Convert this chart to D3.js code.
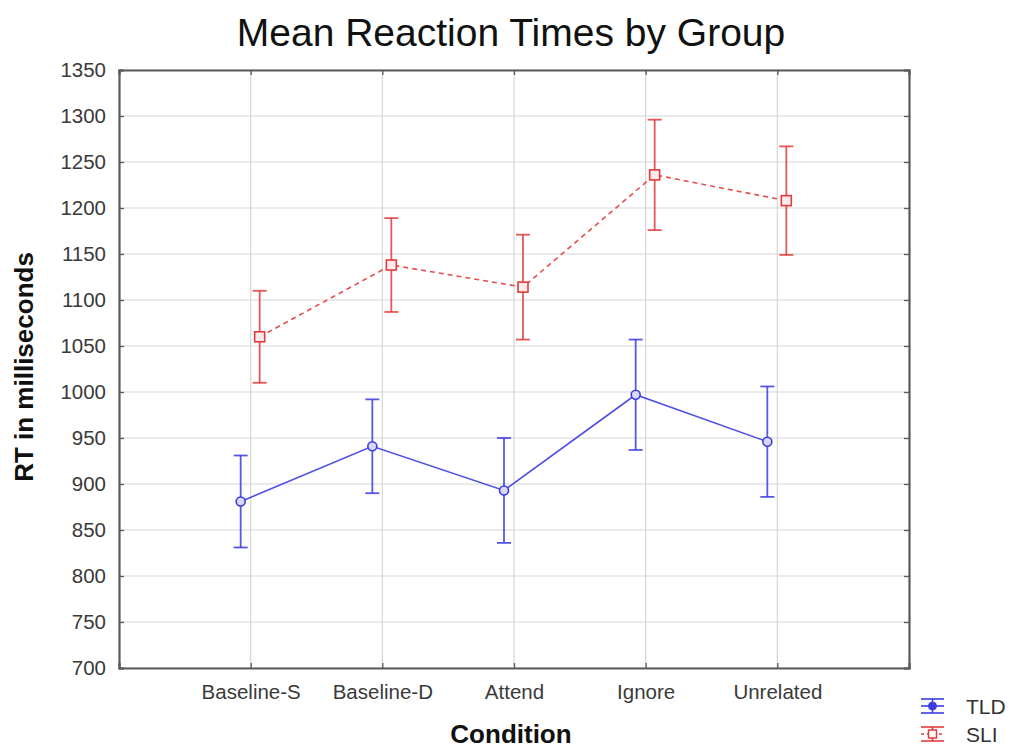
<!DOCTYPE html>
<html>
<head>
<meta charset="utf-8">
<script src="https://cdn.jsdelivr.net/npm/d3@7"></script>
<style>
  html, body { margin: 0; padding: 0; background: #fff; }
  svg { display: block; font-family: "Liberation Sans", Arial, sans-serif; }
</style>
</head>
<body>
<svg id="chart" width="1014" height="752"></svg>
<script>
// Condition categories and group means (ms) with their error half-widths
const conditions = ["Baseline-S", "Baseline-D", "Attend", "Ignore", "Unrelated"];
const tldMeans = [881, 941, 893, 997, 946];
const tldErrors = [50, 51, 57, 60, 60];
const sliMeans = [1060, 1138, 1114, 1236, 1208];
const sliErrors = [50, 51, 57, 60, 59];
const yTickValues = [700, 750, 800, 850, 900, 950, 1000, 1050, 1100, 1150, 1200, 1250, 1300, 1350];
const groupNames = ["TLD", "SLI"];

const svg = d3.select("#chart");
const plot = { left: 119, right: 909, top: 70, bottom: 668 };

const blue = "#3c3ce0";
const red = "#e23b3b";

// Categories sit at 1..n on a 0..n+1 linear axis
const x = d3.scaleLinear().domain([0, conditions.length + 1]).range([plot.left, plot.right]);
const y = d3.scaleLinear().domain([700, 1350]).range([plot.bottom, plot.top]);
const catPos = conditions.map((c, i) => i + 1);

// Gridlines
const grid = svg.append("g");
grid.selectAll("line.h").data(yTickValues).join("line")
  .attr("x1", plot.left).attr("x2", plot.right)
  .attr("y1", d => y(d)).attr("y2", d => y(d))
  .attr("stroke", "#d6d6d6").attr("stroke-width", 1.2);
grid.selectAll("line.v").data(catPos).join("line")
  .attr("x1", d => x(d)).attr("x2", d => x(d))
  .attr("y1", plot.top).attr("y2", plot.bottom)
  .attr("stroke", "#d6d6d6").attr("stroke-width", 1.2);

// Axes with inward ticks
const fontTick = "20.5px";
const yAxisL = d3.axisLeft(y).tickValues(yTickValues).tickSize(-5).tickPadding(13).tickFormat(d3.format("d"));
const gL = svg.append("g").attr("transform", `translate(${plot.left},0)`).call(yAxisL);
const yAxisR = d3.axisRight(y).tickValues(yTickValues).tickSize(-5).tickFormat("");
const gR = svg.append("g").attr("transform", `translate(${plot.right},0)`).call(yAxisR);
const xAxisB = d3.axisBottom(x).tickValues(catPos).tickSize(-5).tickPadding(16)
  .tickFormat((d, i) => conditions[i]);
const gB = svg.append("g").attr("transform", `translate(0,${plot.bottom})`).call(xAxisB);
const xAxisT = d3.axisTop(x).tickValues(catPos).tickSize(-5).tickFormat("");
const gT = svg.append("g").attr("transform", `translate(0,${plot.top})`).call(xAxisT);

[gL, gR, gB, gT].forEach(g => {
  g.select(".domain").attr("stroke", "#5a5a5a").attr("stroke-width", 2.2);
  g.selectAll(".tick line").attr("stroke", "#5a5a5a").attr("stroke-width", 1.3);
  g.selectAll(".tick text").attr("fill", "#3a3a3a")
    .style("font-size", fontTick).style("font-family", "'Liberation Sans', Arial, sans-serif");
});
gB.selectAll(".tick text").attr("dy", "0.71em");

// Series drawing
const series = [
  { name: "TLD", means: tldMeans, errs: tldErrors, color: blue, dash: null, offset: -10, marker: "circle" },
  { name: "SLI", means: sliMeans, errs: sliErrors, color: red, dash: "5,4", offset: 9, marker: "square" }
];

series.forEach(s => {
  const pts = s.means.map((m, i) => ({ cx: x(catPos[i]) + s.offset, m, e: s.errs[i] }));
  const g = svg.append("g");
  g.append("path")
    .datum(pts)
    .attr("d", d3.line().x(d => d.cx).y(d => y(d.m)))
    .attr("fill", "none").attr("stroke", s.color).attr("stroke-width", 1.6)
    .attr("stroke-dasharray", s.dash).attr("opacity", 0.9);
  const bars = g.selectAll("g.bar").data(pts).join("g").attr("class", "bar");
  bars.append("line")
    .attr("x1", d => d.cx).attr("x2", d => d.cx)
    .attr("y1", d => y(d.m - d.e)).attr("y2", d => y(d.m + d.e))
    .attr("stroke", s.color).attr("stroke-width", 1.8).attr("opacity", 0.85);
  [-1, 1].forEach(sign => {
    bars.append("line")
      .attr("x1", d => d.cx - 7).attr("x2", d => d.cx + 7)
      .attr("y1", d => y(d.m + sign * d.e)).attr("y2", d => y(d.m + sign * d.e))
      .attr("stroke", s.color).attr("stroke-width", 1.8).attr("opacity", 0.85);
  });
  if (s.marker === "circle") {
    bars.append("circle").attr("cx", d => d.cx).attr("cy", d => y(d.m)).attr("r", 4.5)
      .attr("fill", "#d8d8f8").attr("stroke", s.color).attr("stroke-width", 1.6);
  } else {
    bars.append("rect").attr("x", d => d.cx - 5).attr("y", d => y(d.m) - 5)
      .attr("width", 10).attr("height", 10)
      .attr("fill", "#fdeaea").attr("stroke", s.color).attr("stroke-width", 1.6);
  }
});

// Title and axis labels
svg.append("text").attr("x", 511).attr("y", 46).attr("text-anchor", "middle")
  .style("font-size", "39px").attr("fill", "#111").text("Mean Reaction Times by Group");
svg.append("text").attr("x", 511).attr("y", 743).attr("text-anchor", "middle")
  .style("font-size", "26px").style("font-weight", "bold").attr("fill", "#111").text("Condition");
svg.append("text").attr("transform", "translate(33,367) rotate(-90)").attr("text-anchor", "middle")
  .style("font-size", "26px").style("font-weight", "bold").attr("fill", "#111").text("RT in milliseconds");

// Legend
const legend = svg.append("g");
series.forEach((s, i) => {
  const cy = 706 + i * 28;
  const lg = legend.append("g");
  const x0 = 921, x1 = 944, mx = 932.5;
  lg.append("line").attr("x1", x0).attr("x2", x1).attr("y1", cy - 7).attr("y2", cy - 7)
    .attr("stroke", s.color).attr("stroke-width", 1.6);
  lg.append("line").attr("x1", x0).attr("x2", x1).attr("y1", cy + 7).attr("y2", cy + 7)
    .attr("stroke", s.color).attr("stroke-width", 1.6);
  lg.append("line").attr("x1", x0).attr("x2", x1).attr("y1", cy).attr("y2", cy)
    .attr("stroke", s.color).attr("stroke-width", 1.6).attr("stroke-dasharray", s.dash ? "3,3" : null);
  lg.append("line").attr("x1", mx).attr("x2", mx).attr("y1", cy - 7).attr("y2", cy + 7)
    .attr("stroke", s.color).attr("stroke-width", 1.6);
  if (s.marker === "circle") {
    lg.append("circle").attr("cx", mx).attr("cy", cy).attr("r", 4)
      .attr("fill", s.color).attr("stroke", s.color);
  } else {
    lg.append("rect").attr("x", mx - 4).attr("y", cy - 4).attr("width", 8).attr("height", 8)
      .attr("fill", "#fff").attr("stroke", s.color).attr("stroke-width", 1.5);
  }
  lg.append("text").attr("x", 966).attr("y", cy + 8).style("font-size", "21px")
    .attr("fill", "#333").text(groupNames[i]);
});
</script>
</body>
</html>
